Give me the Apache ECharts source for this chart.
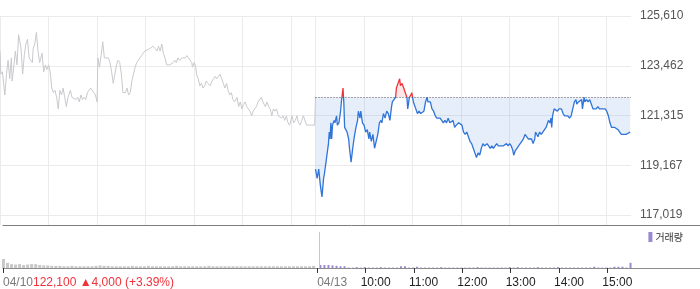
<!DOCTYPE html>
<html><head><meta charset="utf-8">
<script src="https://cdn.jsdelivr.net/npm/echarts@6/dist/echarts.min.js"></script>
<style>html,body{margin:0;padding:0;background:#fff}#c{width:700px;height:289px}</style>
</head><body><div id="c"></div>
<script>
// ---------- data ----------
const prevDate = '04/10';
const curDate = '04/13';
const hourLabels = ['10:00', '11:00', '12:00', '13:00', '14:00', '15:00'];
const yTickValues = [117019, 119167, 121315, 123462, 125610];
const yMinValue = 116587;
const basePrice = 122100;
const lastInfo = '122,100 \u25B24,000 (+3.39%)';

// [minutes since 09:00, price]  -- 04/10
const day1 = [
[0,124100],[1,123100],[3,123200],[6,122200],[8,123100],[10,123700],[12,122900],[14,123800],[15,122800],[17,123400],
[19,124100],[21,123500],[23,124800],[26,124200],[28,123100],[30,123900],[32,124400],[34,124600],[36,123800],[38,123800],
[40,123600],[41,124200],[43,124400],[45,124900],[47,124100],[49,123600],[52,124000],[54,123200],[56,123500],[58,123300],
[60,123500],[62,123200],[64,122500],[66,122300],[68,122400],[70,122100],[72,121600],[74,122400],[76,122200],[78,122500],
[80,122100],[82,121700],[84,122100],[87,122400],[89,122100],[91,122100],[94,122000],[96,122100],[98,121900],[100,122200],
[102,122000],[104,122100],[106,122000],[108,122300],[110,122300],[112,122500],[114,122500],[116,122300],[118,122200],[120,121900],
[121,123800],[123,123400],[125,123900],[127,124500],[129,123800],[131,123800],[134,123800],[136,123600],[138,123200],[140,122700],
[142,123100],[144,123500],[146,123700],[148,123600],[150,123100],[152,122300],[155,122300],[157,122500],[159,122200],[161,122300],
[163,122800],[165,123100],[167,123400],[169,123600],[171,123700],[173,123800],[175,123900],[177,124000],[179,124100],[181,124100],
[185,124200],[189,124300],[192,124200],[194,124100],[196,124300],[198,124100],[200,124400],[202,124000],[204,123800],[206,123500],
[210,123500],[214,123600],[216,123700],[218,123600],[220,123800],[222,123700],[225,123800],[227,123800],[229,123800],[231,123900],
[233,123800],[235,123800],[237,123600],[238,123400],[240,123600],[242,123400],[243,123100],[245,122900],[247,122600],[249,122700],
[251,122500],[253,122600],[255,122800],[257,122700],[260,122600],[262,122800],[264,122800],[266,123000],[268,122900],[270,123000],
[272,123100],[274,122900],[276,122700],[278,122500],[280,122700],[282,122400],[284,122200],[286,122300],[288,122000],[290,121900],
[293,122100],[295,121700],[297,121900],[299,121600],[301,121800],[303,121900],[305,121700],[307,121600],[309,121500],[311,121300],
[313,121500],[315,121600],[317,121700],[319,121900],[321,121900],[323,122100],[325,121900],[328,121700],[330,121900],[332,121700],
[334,121600],[336,121300],[338,121600],[340,121500],[342,121600],[344,121300],[346,121300],[348,121200],[350,121300],[352,121100],
[354,121300],[356,121000],[358,120900],[361,121300],[363,121000],[365,121100],[367,121300],[369,121000],[371,120900],[373,121100],
[375,121300],[377,121300],[379,120900],[385,120900],[389,120900],[390,122100]
];

// [minutes since 09:00, price]  -- 04/13
const day2 = [
[0,119000],[2,118600],[4,119000],[6,118300],[8,117800],[10,118600],[11,118800],[13,119300],[14,119300],[16,120100],
[17,120600],[18,120300],[19,121000],[20,120300],[21,120900],[23,121100],[24,121000],[26,121300],[27,120900],[29,121000],
[31,121500],[32,121900],[34,122500],[35,121900],[36,120800],[39,120600],[41,120300],[42,119900],[44,119300],[46,119900],
[48,120400],[50,120800],[52,121100],[53,121500],[55,121200],[56,121500],[58,121000],[60,120900],[62,120600],[64,120700],
[66,120300],[67,120600],[69,120200],[71,120500],[73,119900],[75,120200],[77,120500],[79,121000],[81,121100],[82,121000],
[84,121400],[86,121200],[88,121500],[90,121400],[92,121100],[94,121700],[95,121900],[97,122000],[99,122100],[100,122500],
[102,122700],[104,122900],[105,122600],[107,122700],[109,122500],[111,122300],[113,122100],[114,121600],[116,122100],[118,122200],
[119,122300],[121,121900],[123,121900],[124,121600],[126,121400],[128,121500],[130,121400],[132,121400],[134,121500],[136,121900],
[138,122100],[139,121900],[142,121900],[144,121600],[146,121500],[148,121300],[150,121200],[154,121200],[156,121100],[158,121000],
[160,121100],[162,121000],[164,121200],[166,121000],[168,121000],[170,121100],[172,120800],[174,120900],[177,121000],[179,121000],
[181,120900],[183,120600],[185,120500],[187,120600],[189,120400],[191,120200],[193,120100],[195,119900],[197,119700],[199,119500],
[201,119700],[203,119600],[205,119900],[207,120100],[209,120000],[212,120100],[214,120000],[216,119900],[218,120000],[220,119900],
[222,120000],[224,120100],[226,120000],[228,120000],[232,120000],[234,120000],[236,120100],[238,120000],[240,120100],[242,120000],
[244,119800],[245,119600],[247,119800],[249,119900],[251,120000],[253,120000],[255,120200],[257,120300],[259,120500],[261,120400],
[263,120300],[265,120300],[267,120300],[269,120100],[271,120300],[272,120600],[275,120400],[277,120600],[279,120500],[281,120600],
[283,120600],[285,120800],[287,121000],[288,121100],[290,121000],[291,121200],[292,120800],[293,121300],[295,121600],[297,121600],
[299,121500],[301,121600],[302,121600],[304,121600],[306,121400],[308,121300],[310,121300],[312,121300],[314,121200],[316,121300],
[318,121600],[320,121900],[322,122000],[323,121800],[325,121900],[327,121900],[329,122000],[330,121600],[332,122100],[333,121900],
[335,122000],[337,121900],[339,122000],[341,121800],[343,121600],[345,121600],[347,121600],[349,121700],[351,121600],[354,121600],
[356,121600],[358,121600],[360,121500],[362,121300],[364,121000],[366,120800],[368,120800],[370,120800],[372,120800],[374,120700],
[376,120600],[378,120500],[380,120500],[384,120500],[386,120500],[389,120600]
];

// volume per 5-minute bucket (relative units)
const vol1 = [21,12,9,8,9,7,8,9,9,7,6,6,5,5,5,4,4,5,4,4,4,4,4,5,6,5,5,4,4,4,4,4,5,4,4,4,5,4,4,4,
              4,4,4,5,4,4,4,4,4,4,4,5,4,4,4,4,4,4,4,4,4,4,4,4,4,4,4,4,4,4,4,4,4,4,4,4,4,5];
const vol2 = [7,7,7,6,5,4,4,1,1,2,1,2,1,1,1,2,1,1,1,1,4,4,1,1,3,1,1,1,1,1,2,1,1,1,1,1,1,1,1,2,
              1,1,1,1,1,1,1,2,1,2,1,1,1,1,2,1,1,1,1,2,1,1,1,1,1,1,1,1,3,1,1,1,1,3,3,3,1,12];

// ---------- layout / helpers ----------
const SESSION = 390, TOTAL = 780, BUCKET = 5;
const PLOT_W = 631, VIEW_W = 700;
const VOL_MAX = 100;
const FONT = "Arial, 'Liberation Sans', 'Noto Sans CJK KR', sans-serif";
const fmt = v => Math.round(v).toString().replace(/\B(?=(\d{3})+(?!\d))/g, ',');

const gridLineValues = [];
for (let m = 0; m < SESSION; m += 60) gridLineValues.push(m);
for (let m = SESSION; m < TOTAL; m += 60) gridLineValues.push(m);

const hourTicks = hourLabels.map((_, i) => SESSION + 60 * (i + 1));
const LABEL_SHIFT = 6;
const tickValues = [0, SESSION].concat(hourTicks);
const labelValues = [0, SESSION].concat(hourTicks.map(t => t - LABEL_SHIFT));
const labelMap = {};
labelMap[0] = '{d|' + prevDate + '}';
labelMap[SESSION] = '{d|' + curDate + '}';
hourTicks.forEach((t, i) => { labelMap[t - LABEL_SHIFT] = '{t|' + hourLabels[i] + '}'; });

const day2Global = day2.map(p => [p[0] + SESSION, p[1]]);
const vol1Data = vol1.map((v, i) => [i * BUCKET + 2, v]);
const vol2Data = vol2.map((v, i) => [SESSION + i * BUCKET + 2, v]);
const volXMax = TOTAL * VIEW_W / PLOT_W;
const yMaxValue = yTickValues[yTickValues.length - 1];

const chart = echarts.init(document.getElementById('c'), null, {renderer: 'canvas'});
chart.setOption({
  animation: false,
  textStyle: {fontFamily: FONT},
  title: {
    text: lastInfo, left: 33, top: 277, padding: 0,
    textStyle: {fontSize: 12, fontWeight: 'normal', color: '#f0323c', fontFamily: FONT}
  },
  legend: {
    data: [{name: '거래량', icon: 'rect'}],
    right: 17, top: 232, padding: 0, itemWidth: 4, itemHeight: 10, itemGap: 4,
    selectedMode: false,
    textStyle: {fontSize: 10, color: '#333', fontFamily: "'Noto Sans CJK KR', sans-serif", padding: [0, 0, 0, -2]}
  },
  grid: [
    {left: 0, right: VIEW_W - PLOT_W, top: 16, bottom: 64},
    {left: 0, right: 0, top: 225, bottom: 21}
  ],
  xAxis: [
    {
      type: 'value', gridIndex: 0, min: 0, max: TOTAL,
      axisLine: {show: false},
      axisTick: {show: false, customValues: gridLineValues},
      axisLabel: {show: false},
      splitLine: {show: true, lineStyle: {color: '#ebebeb', width: 1}}
    },
    {
      type: 'value', gridIndex: 1, min: 0, max: volXMax, position: 'bottom',
      axisLine: {show: true, lineStyle: {color: '#8c8c8c', width: 1}},
      axisTick: {show: true, length: 5, customValues: tickValues, lineStyle: {color: '#333'}},
      axisLabel: {
        show: true, customValues: labelValues, align: 'left', margin: 9,
        fontSize: 12, fontFamily: FONT,
        formatter: v => labelMap[v] || '',
        rich: {
          d: {color: '#7a7a7a', fontSize: 12, fontFamily: FONT},
          t: {color: '#222', fontSize: 12, fontFamily: FONT}
        }
      },
      splitLine: {show: false}
    },
    {
      type: 'value', gridIndex: 1, min: 0, max: volXMax, position: 'top',
      axisLine: {show: true, lineStyle: {color: '#7d7d7d', width: 1}},
      axisTick: {show: false}, axisLabel: {show: false}, splitLine: {show: false}
    }
  ],
  yAxis: [
    {
      type: 'value', gridIndex: 0, position: 'right',
      min: yMinValue, max: yMaxValue,
      axisLine: {show: false},
      axisTick: {show: false, customValues: yTickValues},
      axisLabel: {
        show: true, customValues: yTickValues, margin: 9,
        color: '#555', fontSize: 12, fontFamily: FONT, formatter: v => fmt(v)
      },
      splitLine: {show: true, lineStyle: {color: '#ebebeb', width: 1}}
    },
    {
      type: 'value', gridIndex: 1, min: 0, max: VOL_MAX, show: false,
      splitLine: {show: false}
    }
  ],
  visualMap: {
    show: false, type: 'piecewise', seriesIndex: 1, dimension: 1,
    pieces: [
      {gt: basePrice, lte: yMaxValue, color: '#f0323c'},
      {gte: yMinValue, lte: basePrice, color: '#2f74d8'}
    ],
    outOfRange: {color: '#2f74d8'}
  },
  series: [
    {
      name: prevDate, type: 'line', xAxisIndex: 0, yAxisIndex: 0,
      data: day1, showSymbol: false, symbol: 'none',
      lineStyle: {color: '#c9c9ce', width: 1}, itemStyle: {color: '#c9c9ce'},
      silent: true
    },
    {
      name: curDate, type: 'line', xAxisIndex: 0, yAxisIndex: 0,
      data: day2Global, showSymbol: false, symbol: 'none',
      lineStyle: {width: 1.3},
      areaStyle: {origin: basePrice, opacity: 0.12},
      silent: true, z: 3,
      markLine: {
        silent: true, symbol: ['none', 'none'],
        label: {show: false},
        lineStyle: {color: '#555', type: [1, 2], width: 1},
        data: [[{coord: [SESSION, basePrice]}, {coord: [TOTAL, basePrice]}]]
      }
    },
    {
      name: '거래량 ' + prevDate, type: 'bar', xAxisIndex: 1, yAxisIndex: 1,
      data: vol1Data, barWidth: 3, itemStyle: {color: '#c8c8c8'}, silent: true
    },
    {
      name: '거래량', type: 'bar', xAxisIndex: 1, yAxisIndex: 1,
      data: vol2Data, barWidth: 2, itemStyle: {color: '#9a89cf'}, silent: true,
      markLine: {
        silent: true, symbol: ['none', 'none'], label: {show: false},
        lineStyle: {color: '#c8c8c8', type: 'solid', width: 1},
        data: [[{coord: [SESSION, 0]}, {coord: [SESSION, VOL_MAX * 0.84]}]]
      }
    }
  ]
});
</script>
</body></html>
